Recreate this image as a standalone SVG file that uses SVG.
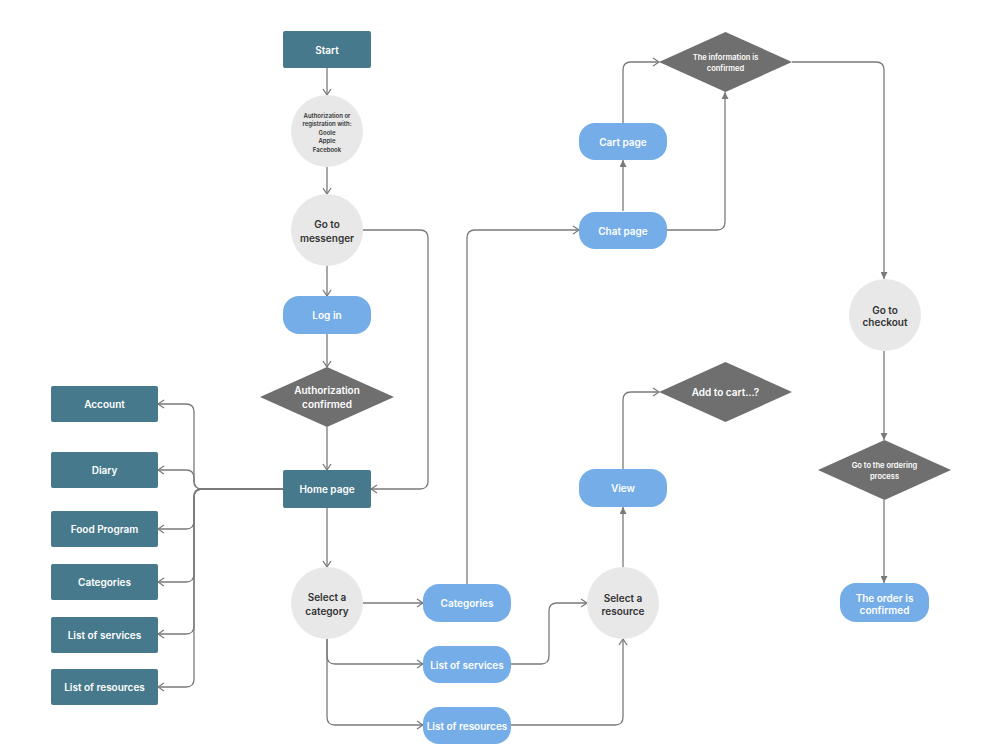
<svg xmlns="http://www.w3.org/2000/svg" width="1000" height="750" viewBox="0 0 1000 750">
<style>
.dark{fill:#46798b}
.blue{fill:#75ade8}
.grey{fill:#e8e8e8}
.dia{fill:#6f6f6f}
text{font-family:Inter,"Noto Sans","Liberation Sans",sans-serif;font-weight:600;text-anchor:middle;dominant-baseline:central}
.w{fill:#ffffff;font-size:10px}
.ws{fill:#ffffff;font-size:7.5px}
.k{fill:#333333;font-size:10px}
.ks{fill:#333333;font-size:6px}
.c path{fill:none;stroke:#7a7a7a;stroke-width:1.3}
</style>
<defs>
<marker id="ch" markerUnits="userSpaceOnUse" markerWidth="8" markerHeight="10" viewBox="0 0 8 10" refX="7" refY="5" orient="auto">
<path d="M1,1 L7,5 L1,9" fill="none" stroke="#7a7a7a" stroke-width="1.3"/>
</marker>
<marker id="fa" markerUnits="userSpaceOnUse" markerWidth="7" markerHeight="7" viewBox="0 0 7 7" refX="7" refY="3.5" orient="auto">
<path d="M0,0 L7,3.5 L0,7 z" fill="#7a7a7a"/>
</marker>
</defs>
<rect width="1000" height="750" fill="#ffffff"/>
<g class="c" id="connectors">
<path d="M327,68 V95" marker-end="url(#ch)"/>
<path d="M327,167 V194" marker-end="url(#ch)"/>
<path d="M327,266 V296" marker-end="url(#ch)"/>
<path d="M327,334 V367" marker-end="url(#ch)"/>
<path d="M327,427 V470" marker-end="url(#ch)"/>
<path d="M363,230 H420 Q428,230 428,238 V481 Q428,489 420,489 H371" marker-end="url(#ch)"/>
<path d="M283,489 H202 Q194,489 194,481 V412 Q194,404 186,404 H158" marker-end="url(#ch)"/>
<path d="M283,489 H202 Q194,489 194,481 V478 Q194,470 186,470 H158" marker-end="url(#ch)"/>
<path d="M283,489 H202 Q194,489 194,497 V521 Q194,529 186,529 H158" marker-end="url(#ch)"/>
<path d="M283,489 H202 Q194,489 194,497 V574 Q194,582 186,582 H158" marker-end="url(#ch)"/>
<path d="M283,489 H202 Q194,489 194,497 V626 Q194,634 186,634 H158" marker-end="url(#ch)"/>
<path d="M283,489 H202 Q194,489 194,497 V679 Q194,687 186,687 H158" marker-end="url(#ch)"/>
<path d="M327,508 V567" marker-end="url(#ch)"/>
<path d="M363,603 H423" marker-end="url(#ch)"/>
<path d="M327,639 V656 Q327,664 335,664 H423" marker-end="url(#ch)"/>
<path d="M327,639 V717 Q327,725 335,725 H423" marker-end="url(#ch)"/>
<path d="M467,584 V238 Q467,230 475,230 H579" marker-end="url(#ch)"/>
<path d="M623,211 V160" marker-end="url(#fa)"/>
<path d="M623,123 V70 Q623,62 631,62 H659" marker-end="url(#ch)"/>
<path d="M667,230 H717 Q725,230 725,222 V92" marker-end="url(#fa)"/>
<path d="M792,62 H876 Q884,62 884,70 V279" marker-end="url(#fa)"/>
<path d="M884,351 V440" marker-end="url(#fa)"/>
<path d="M884,500 V583" marker-end="url(#fa)"/>
<path d="M623,567 V507" marker-end="url(#fa)"/>
<path d="M623,469 V400 Q623,392 631,392 H659" marker-end="url(#ch)"/>
<path d="M511,664 H541 Q549,664 549,656 V611 Q549,603 557,603 H587" marker-end="url(#ch)"/>
<path d="M511,725 H615 Q623,725 623,717 V639" marker-end="url(#ch)"/>
</g>
<g id="start"><rect class="dark" x="283" y="31" width="88" height="37" rx="2"/><text class="w" x="327" y="49.5">Start</text></g>
<g id="auth"><circle class="grey" cx="327" cy="131" r="36"/>
<text class="ks" x="327" y="115">Authorization or</text>
<text class="ks" x="327" y="123.5">registration with:</text>
<text class="ks" x="327" y="132">Goole</text>
<text class="ks" x="327" y="140.5">Apple</text>
<text class="ks" x="327" y="149">Facebook</text></g>
<g id="messenger"><circle class="grey" cx="327" cy="230" r="36"/><text class="k" x="327" y="224">Go to</text><text class="k" x="327" y="237.5">messenger</text></g>
<g id="login"><rect class="blue" x="283" y="296" width="88" height="38" rx="16"/><text class="w" x="327" y="315">Log in</text></g>
<g id="authconf"><polygon class="dia" points="327,367 394,397 327,427 260,397"/><text class="w" x="327" y="390">Authorization</text><text class="w" x="327" y="404">confirmed</text></g>
<g id="home"><rect class="dark" x="283" y="470" width="88" height="38" rx="2"/><text class="w" x="327" y="489">Home page</text></g>
<g id="account"><rect class="dark" x="51" y="386" width="107" height="36" rx="2"/><text class="w" x="104.5" y="404">Account</text></g>
<g id="diary"><rect class="dark" x="51" y="452" width="107" height="36" rx="2"/><text class="w" x="104.5" y="470">Diary</text></g>
<g id="food"><rect class="dark" x="51" y="511" width="107" height="36" rx="2"/><text class="w" x="104.5" y="529">Food Program</text></g>
<g id="catsL"><rect class="dark" x="51" y="564" width="107" height="36" rx="2"/><text class="w" x="104.5" y="582">Categories</text></g>
<g id="servL"><rect class="dark" x="51" y="617" width="107" height="36" rx="2"/><text class="w" x="104.5" y="635">List of services</text></g>
<g id="resL"><rect class="dark" x="51" y="669" width="107" height="36" rx="2"/><text class="w" x="104.5" y="687">List of resources</text></g>
<g id="selcat"><circle class="grey" cx="327" cy="603" r="36"/><text class="k" x="327" y="597">Select a</text><text class="k" x="327" y="610.5">category</text></g>
<g id="cats"><rect class="blue" x="423" y="584" width="88" height="38" rx="16"/><text class="w" x="467" y="603">Categories</text></g>
<g id="serv"><rect class="blue" x="423" y="646" width="88" height="37" rx="16"/><text class="w" x="467" y="664.5">List of services</text></g>
<g id="res"><rect class="blue" x="423" y="707" width="88" height="37" rx="16"/><text class="w" x="467" y="725.5">List of resources</text></g>
<g id="chat"><rect class="blue" x="579" y="212" width="88" height="37" rx="16"/><text class="w" x="623" y="230.5">Chat page</text></g>
<g id="cart"><rect class="blue" x="579" y="123" width="88" height="37" rx="16"/><text class="w" x="623" y="141.5">Cart page</text></g>
<g id="info"><polygon class="dia" points="725.5,32 792,62 725.5,92 659,62"/><text class="ws" x="725.5" y="57">The information is</text><text class="ws" x="725.5" y="68">confirmed</text></g>
<g id="selres"><circle class="grey" cx="623" cy="603" r="36"/><text class="k" x="623" y="597.5">Select a</text><text class="k" x="623" y="610.5">resource</text></g>
<g id="view"><rect class="blue" x="579" y="469" width="88" height="38" rx="16"/><text class="w" x="623" y="488">View</text></g>
<g id="addcart"><polygon class="dia" points="725.5,362 792,392 725.5,422 659,392"/><text class="w" x="725.5" y="392">Add to cart...?</text></g>
<g id="checkout"><circle class="grey" cx="885" cy="315" r="36"/><text class="k" x="885" y="309.5">Go to</text><text class="k" x="885" y="322">checkout</text></g>
<g id="ordering"><polygon class="dia" points="884.5,440 951,470 884.5,500 818,470"/><text class="ws" x="884.5" y="465">Go to the ordering</text><text class="ws" x="884.5" y="476">process</text></g>
<g id="confirmed"><rect class="blue" x="840" y="583" width="89" height="39" rx="16"/><text class="w" x="884.5" y="597.5">The order is</text><text class="w" x="884.5" y="610">confirmed</text></g>
</svg>
